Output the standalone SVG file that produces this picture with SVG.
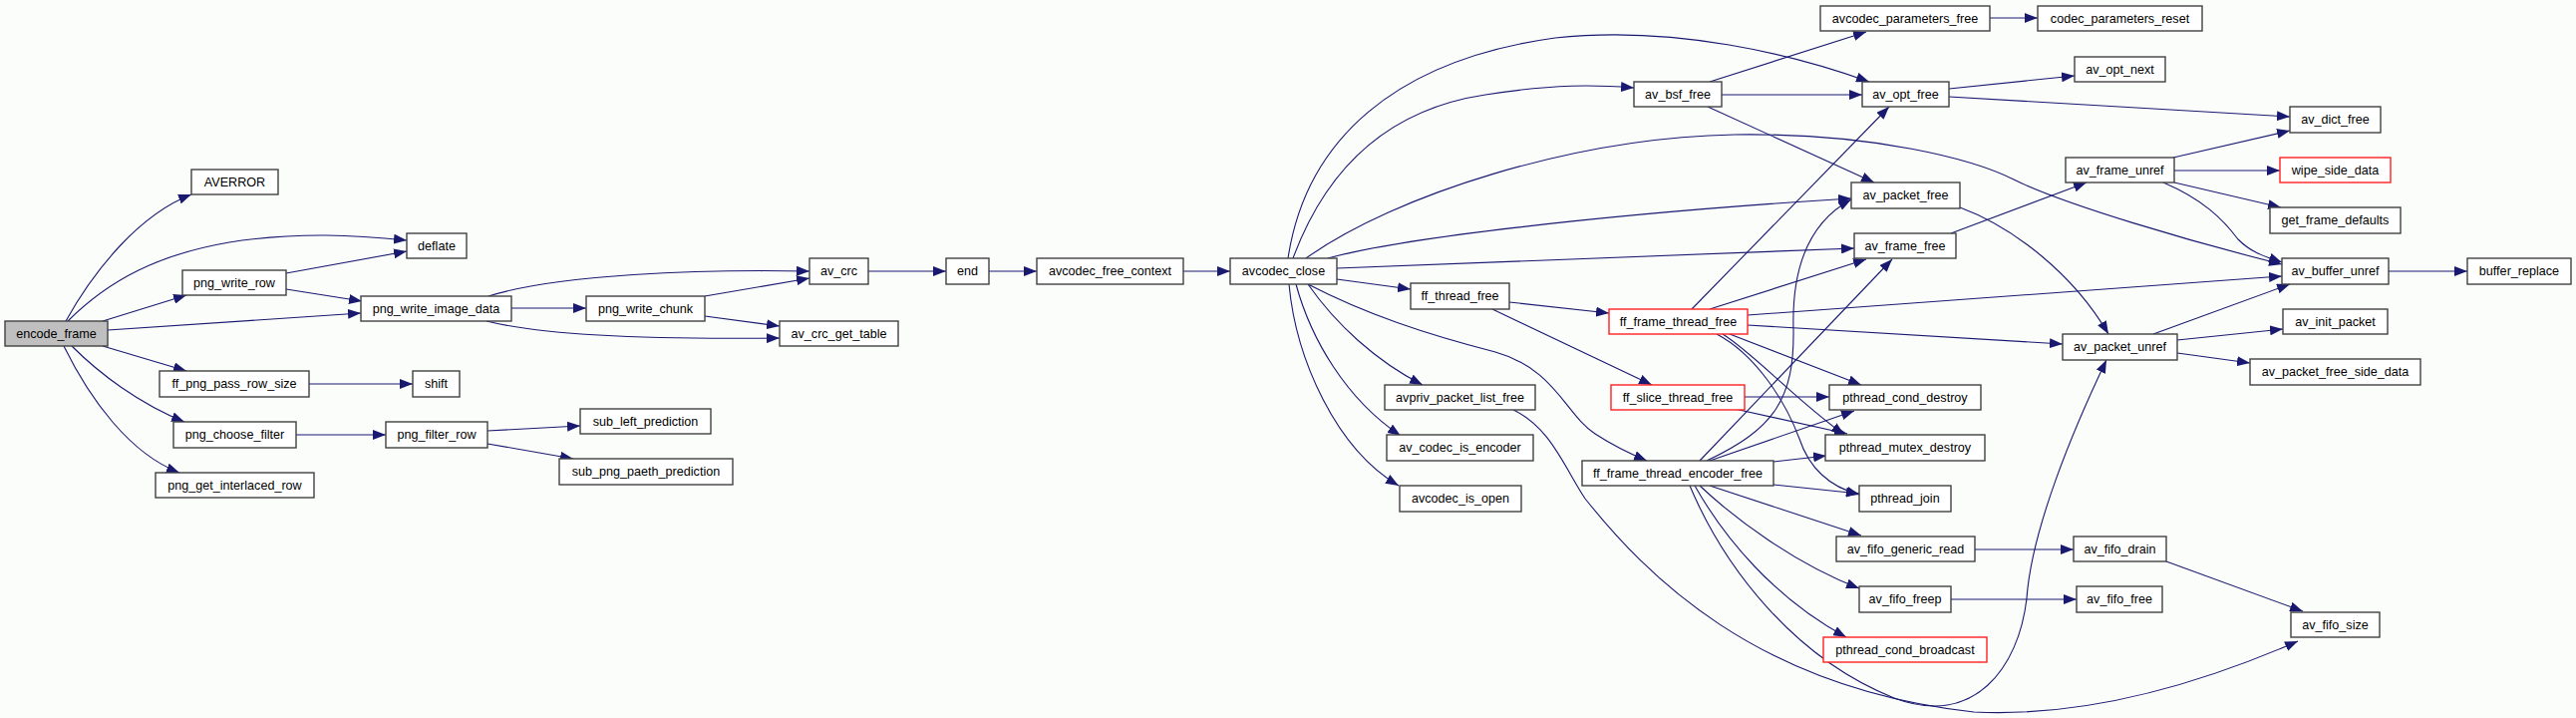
<svg xmlns="http://www.w3.org/2000/svg" width="2584" height="720" viewBox="0 0 2584 720">
<style>
.n rect{fill:#ffffff;stroke:#404040;stroke-width:1.4}
.n.r rect{stroke:#ff2020}
.n.g rect{fill:#bfbfbf}
.n text{font-family:"Liberation Sans",Arial,sans-serif;font-size:12.6px;fill:#000;text-anchor:middle}
.e path{fill:none;stroke:#191970;stroke-width:1.1;marker-end:url(#ah)}
</style>
<defs>
<marker id="ah" markerUnits="userSpaceOnUse" markerWidth="13" markerHeight="10" refX="13" refY="5" orient="auto">
<path d="M0,0 L13,5 L0,10 z" fill="#191970"/>
</marker>
</defs>
<rect x="0" y="0" width="2584" height="720" fill="#fbfdfb"/>
<g id="connectors" class="e">
<path d="M66,322 C95,270 140,215 192,195"/>
<path d="M68,322 C110,280 160,255 230,243 C300,232 360,236 408,241"/>
<path d="M103,322 L187,296"/>
<path d="M108,331 L362,314"/>
<path d="M103,347 L187,372"/>
<path d="M72,347 C100,375 140,405 185,423"/>
<path d="M64,347 C90,400 130,455 180,474"/>
<path d="M287,274 L408,252"/>
<path d="M287,290 L363,302"/>
<path d="M490,297 C560,275 700,270 812,272"/>
<path d="M513,309 L588,309"/>
<path d="M488,322 C560,340 700,340 782,339"/>
<path d="M707,297 L812,279"/>
<path d="M707,317 L782,327"/>
<path d="M310,385 L414,385"/>
<path d="M297,436 L387,436"/>
<path d="M489,432 L582,427"/>
<path d="M489,445 L575,460"/>
<path d="M871,272 L949,272"/>
<path d="M992,272 L1040,272"/>
<path d="M1187,272 L1234,272"/>
<path d="M1292,259 C1310,140 1400,60 1560,38 C1680,25 1800,55 1875,82"/>
<path d="M1297,259 C1330,170 1390,110 1490,95 C1560,84 1600,85 1639,88"/>
<path d="M1310,259 C1400,195 1580,138 1740,135 C1880,133 1980,160 2020,180 C2070,205 2200,243 2289,265"/>
<path d="M1332,259 C1400,240 1600,215 1857,199"/>
<path d="M1341,269 L1860,249"/>
<path d="M1341,280 L1415,290"/>
<path d="M1312,285 C1340,325 1380,362 1427,386"/>
<path d="M1300,285 C1315,340 1350,400 1405,437"/>
<path d="M1293,285 C1300,360 1340,450 1403,487"/>
<path d="M1312,285 C1370,315 1430,335 1500,353 C1560,370 1570,415 1600,435 C1620,448 1635,455 1652,462"/>
<path d="M1518,411 C1555,428 1570,470 1590,500 C1650,575 1760,690 1980,714 C2100,720 2220,680 2305,643"/>
<path d="M1514,303 L1614,314"/>
<path d="M1497,310 L1657,386"/>
<path d="M1715,82 L1872,32"/>
<path d="M1727,95 L1868,95"/>
<path d="M1713,107 L1880,183"/>
<path d="M1996,18 L2044,18"/>
<path d="M1955,89 L2081,76"/>
<path d="M1955,97 L2297,117"/>
<path d="M1957,234 L2093,183"/>
<path d="M1966,208 C2020,228 2080,275 2115,335"/>
<path d="M2180,158 L2297,131"/>
<path d="M2181,171 L2287,171"/>
<path d="M2181,183 L2288,208"/>
<path d="M2170,183 C2210,200 2230,220 2245,240 C2260,255 2275,258 2289,263"/>
<path d="M2396,272 L2475,272"/>
<path d="M2160,335 L2297,285"/>
<path d="M2184,341 L2290,330"/>
<path d="M2184,354 L2257,364"/>
<path d="M1697,310 L1895,107"/>
<path d="M1715,310 L1872,260"/>
<path d="M1753,316 L2289,277"/>
<path d="M1753,326 L2069,345"/>
<path d="M1735,335 L1867,386"/>
<path d="M1728,335 C1760,355 1800,400 1850,436"/>
<path d="M1722,335 C1760,355 1790,400 1805,440 C1815,470 1835,488 1865,496"/>
<path d="M1750,398 L1835,398"/>
<path d="M1740,410 L1853,435"/>
<path d="M1715,462 L1860,412"/>
<path d="M1779,463 L1832,457"/>
<path d="M1779,486 L1865,495"/>
<path d="M1715,487 L1867,537"/>
<path d="M1705,487 C1740,520 1800,565 1865,590"/>
<path d="M1700,487 C1730,540 1780,600 1852,639"/>
<path d="M1712,462 C1780,430 1800,400 1799,330 C1797,260 1820,220 1857,200"/>
<path d="M1705,462 L1898,260"/>
<path d="M1695,487 C1730,570 1800,660 1900,700 C1980,730 2025,670 2033,600 C2038,530 2080,430 2113,361"/>
<path d="M1981,551 L2080,551"/>
<path d="M1957,601 L2083,601"/>
<path d="M2173,563 L2310,613"/>
</g>
<g id="encode_frame" class="n g"><rect x="5" y="322" width="103" height="25"/><text x="56.5" y="339">encode_frame</text></g>
<g id="AVERROR" class="n"><rect x="192" y="170" width="87" height="25"/><text x="235.5" y="187">AVERROR</text></g>
<g id="deflate" class="n"><rect x="408" y="234" width="60" height="25"/><text x="438" y="251">deflate</text></g>
<g id="png_write_row" class="n"><rect x="183" y="271" width="104" height="25"/><text x="235" y="288">png_write_row</text></g>
<g id="png_write_image_data" class="n"><rect x="362" y="297" width="151" height="25"/><text x="437.5" y="314">png_write_image_data</text></g>
<g id="ff_png_pass_row_size" class="n"><rect x="160" y="372" width="150" height="26"/><text x="235" y="389">ff_png_pass_row_size</text></g>
<g id="shift" class="n"><rect x="414" y="372" width="47" height="26"/><text x="437.5" y="389">shift</text></g>
<g id="png_choose_filter" class="n"><rect x="174" y="423" width="123" height="26"/><text x="235.5" y="440">png_choose_filter</text></g>
<g id="png_filter_row" class="n"><rect x="387" y="423" width="102" height="26"/><text x="438" y="440">png_filter_row</text></g>
<g id="png_get_interlaced_row" class="n"><rect x="156" y="474" width="159" height="25"/><text x="235.5" y="491">png_get_interlaced_row</text></g>
<g id="png_write_chunk" class="n"><rect x="588" y="297" width="119" height="25"/><text x="647.5" y="314">png_write_chunk</text></g>
<g id="av_crc" class="n"><rect x="812" y="259" width="59" height="26"/><text x="841.5" y="276">av_crc</text></g>
<g id="av_crc_get_table" class="n"><rect x="782" y="322" width="119" height="25"/><text x="841.5" y="339">av_crc_get_table</text></g>
<g id="sub_left_prediction" class="n"><rect x="582" y="410" width="131" height="25"/><text x="647.5" y="427">sub_left_prediction</text></g>
<g id="sub_png_paeth_prediction" class="n"><rect x="561" y="460" width="174" height="26"/><text x="648" y="477">sub_png_paeth_prediction</text></g>
<g id="end" class="n"><rect x="949" y="259" width="43" height="26"/><text x="970.5" y="276">end</text></g>
<g id="avcodec_free_context" class="n"><rect x="1040" y="259" width="147" height="26"/><text x="1113.5" y="276">avcodec_free_context</text></g>
<g id="avcodec_close" class="n"><rect x="1234" y="259" width="107" height="26"/><text x="1287.5" y="276">avcodec_close</text></g>
<g id="av_bsf_free" class="n"><rect x="1639" y="82" width="88" height="25"/><text x="1683" y="99">av_bsf_free</text></g>
<g id="ff_thread_free" class="n"><rect x="1415" y="284" width="99" height="26"/><text x="1464.5" y="301">ff_thread_free</text></g>
<g id="ff_frame_thread_free" class="n r"><rect x="1614" y="310" width="139" height="25"/><text x="1683.5" y="327">ff_frame_thread_free</text></g>
<g id="avpriv_packet_list_free" class="n"><rect x="1389" y="386" width="151" height="25"/><text x="1464.5" y="403">avpriv_packet_list_free</text></g>
<g id="av_codec_is_encoder" class="n"><rect x="1391" y="436" width="147" height="26"/><text x="1464.5" y="453">av_codec_is_encoder</text></g>
<g id="avcodec_is_open" class="n"><rect x="1404" y="487" width="122" height="26"/><text x="1465" y="504">avcodec_is_open</text></g>
<g id="ff_slice_thread_free" class="n r"><rect x="1616" y="386" width="134" height="25"/><text x="1683" y="403">ff_slice_thread_free</text></g>
<g id="ff_frame_thread_encoder_free" class="n"><rect x="1587" y="462" width="192" height="25"/><text x="1683" y="479">ff_frame_thread_encoder_free</text></g>
<g id="avcodec_parameters_free" class="n"><rect x="1826" y="6" width="170" height="25"/><text x="1911" y="23">avcodec_parameters_free</text></g>
<g id="codec_parameters_reset" class="n"><rect x="2044" y="6" width="165" height="25"/><text x="2126.5" y="23">codec_parameters_reset</text></g>
<g id="av_opt_free" class="n"><rect x="1868" y="82" width="87" height="25"/><text x="1911.5" y="99">av_opt_free</text></g>
<g id="av_opt_next" class="n"><rect x="2081" y="57" width="91" height="25"/><text x="2126.5" y="74">av_opt_next</text></g>
<g id="av_packet_free" class="n"><rect x="1857" y="183" width="109" height="26"/><text x="1911.5" y="200">av_packet_free</text></g>
<g id="av_frame_free" class="n"><rect x="1860" y="234" width="102" height="25"/><text x="1911" y="251">av_frame_free</text></g>
<g id="av_frame_unref" class="n"><rect x="2072" y="158" width="109" height="25"/><text x="2126.5" y="175">av_frame_unref</text></g>
<g id="av_packet_unref" class="n"><rect x="2069" y="335" width="115" height="26"/><text x="2126.5" y="352">av_packet_unref</text></g>
<g id="pthread_cond_destroy" class="n"><rect x="1835" y="386" width="152" height="25"/><text x="1911" y="403">pthread_cond_destroy</text></g>
<g id="pthread_mutex_destroy" class="n"><rect x="1831" y="436" width="160" height="26"/><text x="1911" y="453">pthread_mutex_destroy</text></g>
<g id="pthread_join" class="n"><rect x="1865" y="487" width="92" height="26"/><text x="1911" y="504">pthread_join</text></g>
<g id="av_fifo_generic_read" class="n"><rect x="1842" y="538" width="139" height="25"/><text x="1911.5" y="555">av_fifo_generic_read</text></g>
<g id="av_fifo_freep" class="n"><rect x="1865" y="588" width="92" height="26"/><text x="1911" y="605">av_fifo_freep</text></g>
<g id="pthread_cond_broadcast" class="n r"><rect x="1829" y="639" width="164" height="25"/><text x="1911" y="656">pthread_cond_broadcast</text></g>
<g id="av_fifo_drain" class="n"><rect x="2080" y="538" width="93" height="25"/><text x="2126.5" y="555">av_fifo_drain</text></g>
<g id="av_fifo_free" class="n"><rect x="2083" y="588" width="86" height="26"/><text x="2126" y="605">av_fifo_free</text></g>
<g id="av_dict_free" class="n"><rect x="2297" y="107" width="91" height="26"/><text x="2342.5" y="124">av_dict_free</text></g>
<g id="wipe_side_data" class="n r"><rect x="2287" y="158" width="111" height="25"/><text x="2342.5" y="175">wipe_side_data</text></g>
<g id="get_frame_defaults" class="n"><rect x="2277" y="208" width="131" height="26"/><text x="2342.5" y="225">get_frame_defaults</text></g>
<g id="av_buffer_unref" class="n"><rect x="2289" y="259" width="107" height="26"/><text x="2342.5" y="276">av_buffer_unref</text></g>
<g id="buffer_replace" class="n"><rect x="2475" y="259" width="104" height="26"/><text x="2527" y="276">buffer_replace</text></g>
<g id="av_init_packet" class="n"><rect x="2290" y="310" width="105" height="25"/><text x="2342.5" y="327">av_init_packet</text></g>
<g id="av_packet_free_side_data" class="n"><rect x="2257" y="360" width="171" height="26"/><text x="2342.5" y="377">av_packet_free_side_data</text></g>
<g id="av_fifo_size" class="n"><rect x="2298" y="614" width="89" height="25"/><text x="2342.5" y="631">av_fifo_size</text></g>
</svg>
